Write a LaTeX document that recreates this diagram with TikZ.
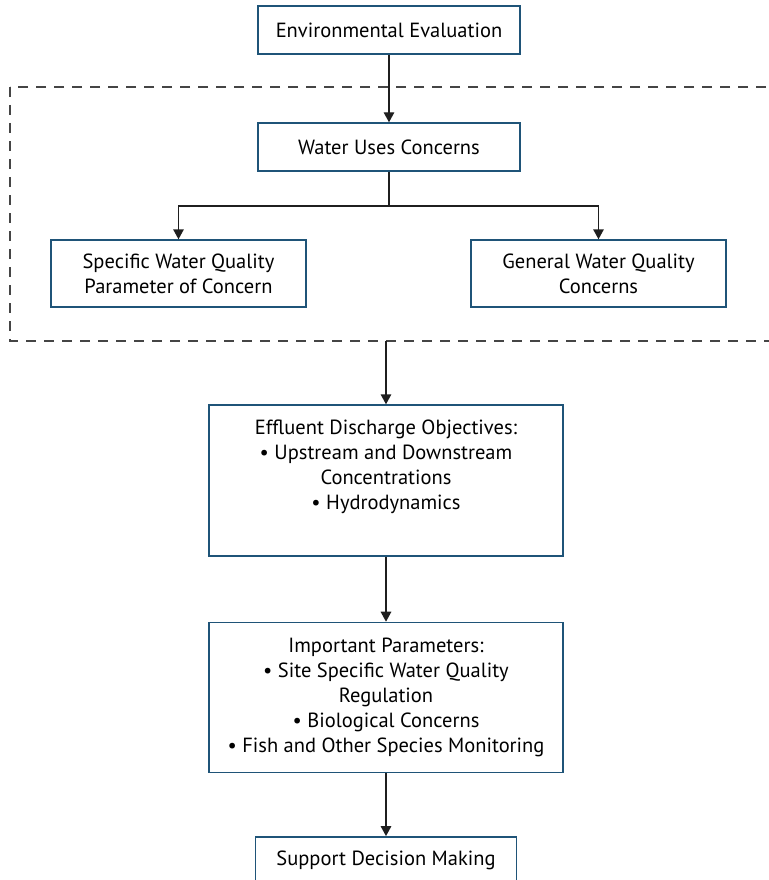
\documentclass[tikz,border=0pt]{standalone}
\usepackage{fontspec}
\setmainfont{PT Sans}
\usepackage{tikz}
\usetikzlibrary{arrows.meta, calc, positioning}
\definecolor{boxblue}{rgb}{0.12,0.33,0.47}
\definecolor{dashgray}{rgb}{0.27,0.27,0.27}
\definecolor{linegray}{rgb}{0.12,0.12,0.12}

\tikzset{
	flowbox/.style = {draw=boxblue, line width=1.4pt, align=center, inner sep=2pt,
		font=\fontsize{20.5}{25}\selectfont},
	flowarrow/.style = {arrows = {-Triangle[width=10.5pt,length=10pt]}, linegray, line width=1.4pt}
}

\begin{document}
\begin{tikzpicture}[x=1pt,y=1pt]
		\useasboundingbox (0,0) rectangle (768,-880);
		
		\node(env) [flowbox, minimum width=262pt, minimum height=48pt] at (389,-30) {Environmental Evaluation};
		
		%----------------------------------------------------------------
		\draw [dashgray, line width=1.2pt, dash pattern=on 10pt off 8pt]
		(10,-87) rectangle (800,-341);
		
		\node(uses) [flowbox, minimum width=262pt, minimum height=48pt] at (389,-147) {Water Uses Concerns};
		\node(specific) [flowbox, minimum width=255pt, minimum height=67pt] at (178.5,-273.5) {Specific Water Quality \\ Parameter of Concern};
		\node(general) [flowbox, minimum width=255pt, minimum height=67pt] at (598.5,-273.5) {General Water Quality \\ Concerns};
		
		%----------------------------------------------------------------
		\node(effluent) [flowbox, minimum width=354pt, minimum height=151pt] at (386,-480.5) {Effluent Discharge Objectives: \\
			• Upstream and Downstream \\
			Concentrations \\
			• Hydrodynamics \\
			\strut
		} ;
		\node(important) [flowbox, minimum width=354pt, minimum height=150pt, below=65pt of effluent] {Important Parameters: \\
			• Site Specific Water Quality \\
			Regulation \\
			• Biological Concerns \\
			• Fish and Other Species Monitoring
		} ;
		\node(support) [flowbox, minimum width=261pt, minimum height=48pt, below=63pt of important] {Support Decision Making};
		
		%----------------------------------------------------------------
		\coordinate(split) at (389,-206);
		\coordinate(groupout) at (386,-341);
		
		\draw [flowarrow] (env) -- (uses);
		\draw [flowarrow] (uses.south) -- (split) -| (specific.north);
		\draw [flowarrow] (split) -| (general.north);
		\draw [flowarrow] (groupout) -- (effluent.north);
		\draw [flowarrow] (effluent) -- (important);
		\draw [flowarrow] (important) -- (support);
		
	\end{tikzpicture}
\end{document}
